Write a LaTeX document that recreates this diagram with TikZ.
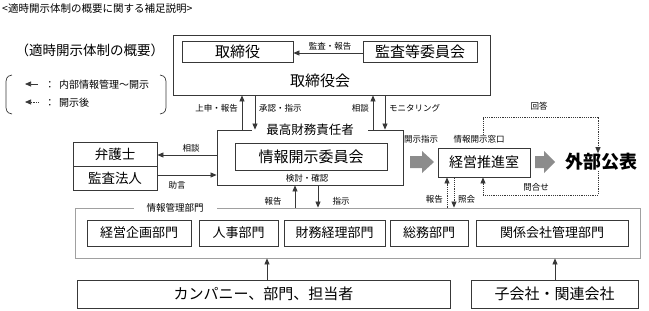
\documentclass[tikz,border=0pt]{standalone}
\usepackage{fontspec}
\setmainfont{Noto Sans CJK JP}
\usetikzlibrary{arrows.meta}
\newcommand{\fsz}[1]{\fontsize{#1}{#1}\selectfont}
\definecolor{lc}{HTML}{383838}
\definecolor{lc2}{HTML}{A0A0A0}
\definecolor{ga}{HTML}{8C8C8C}
\begin{document}
\begin{tikzpicture}[x=1pt,y=-1pt,
  bx/.style={draw=lc, line width=0.8pt, fill=white, inner sep=0pt, anchor=center},
  cont/.style={draw=lc2, line width=0.8pt, fill=white, inner sep=0pt, anchor=center},
  lbl/.style={inner sep=0pt, font=\fsz{8.5}},
  arr/.style={draw=lc, line width=0.75pt, -{Triangle[length=6pt,width=5pt]}},
  dotl/.style={dash pattern=on 1.2pt off 1pt},
  fat/.style={fill=ga, draw=none}]
\useasboundingbox (0,0) rectangle (649,311);

% title and legend
\node[anchor=west, inner sep=0pt, font=\fsz{10.5}] (title) at (2,9) {<適時開示体制の概要に関する補足説明>};
\node[inner sep=0pt, font=\fsz{13.5}] (legtitle) at (90,50) {（適時開示体制の概要）};
\draw[lc, line width=0.7pt] (12,75) .. controls (6,76) and (6,79) .. (6,85) -- (6,104) .. controls (6,110) and (6,113) .. (12,114);
\draw[lc, line width=0.7pt] (160,75) .. controls (166,76) and (166,79) .. (166,85) -- (166,104) .. controls (166,110) and (166,113) .. (160,114);
\coordinate (l1a) at (38,84); \coordinate (l1b) at (25,84);
\coordinate (l2a) at (39,102); \coordinate (l2b) at (25,102);
\draw[arr] (l1a) -- (l1b);
\draw[arr, dotl] (l2a) -- (l2b);
\node[inner sep=0pt, font=\fsz{10}] (c1) at (50,85) {：};
\node[anchor=west, inner sep=0pt, font=\fsz{10}] (leg1) at (59,85) {内部情報管理～開示};
\node[inner sep=0pt, font=\fsz{10}] (c2) at (50,103) {：};
\node[anchor=west, inner sep=0pt, font=\fsz{10}] (leg2) at (59,103) {開示後};

% board
\node[bx, minimum width=317pt, minimum height=60pt] (board) at (331.5,65) {};
\node[bx, minimum width=111pt, minimum height=21pt, font=\fsz{15}] (tori) at (237.5,51.5) {取締役};
\node[bx, minimum width=114pt, minimum height=21pt, font=\fsz{15}] (kansa) at (420,51.5) {監査等委員会};
\node[inner sep=0pt, font=\fsz{15}] (boardlbl) at (320,81) {取締役会};
\draw[arr] ([yshift=-1.5pt]kansa.west) -- ([yshift=-1.5pt]tori.east);
\node[lbl] (l_kansa) at (330,46) {監査・報告};

% CFO
\node[bx, minimum width=186pt, minimum height=55pt] (cfo) at (310,157.5) {};
\node[fill=white, inner xsep=14pt, inner ysep=1pt, font=\fsz{12.5}] (cfolbl) at (310,130) {最高財務責任者};
\node[bx, minimum width=152pt, minimum height=27pt, font=\fsz{15}] (iinkai) at (311,156.5) {情報開示委員会};
\node[lbl] (kento) at (307,178) {検討・確認};

% board <-> CFO
\draw[arr] (242,0 |- cfo.north) -- (242,0 |- board.south);
\draw[arr] (255,0 |- board.south) -- (255,0 |- cfo.north);
\draw[arr] (373,0 |- cfo.north) -- (373,0 |- board.south);
\draw[arr] (385,0 |- board.south) -- (385,0 |- cfo.north);
\node[lbl, anchor=east] (l_joshin) at (238,108) {上申・報告};
\node[lbl, anchor=west] (l_shonin) at (259,108) {承認・指示};
\node[lbl, anchor=east] (l_sodan1) at (369,108) {相談};
\node[lbl, anchor=west] (l_monitor) at (389,108) {モニタリング};

% lawyer / auditor
\node[bx, minimum width=84pt, minimum height=24pt, font=\fsz{13.5}] (bengo) at (115,154) {弁護士};
\node[bx, minimum width=84pt, minimum height=24pt, font=\fsz{13.5}] (hojin) at (115,178) {監査法人};
\draw[arr] (cfo.west |- 0,155) -- (bengo.east |- 0,155);
\draw[arr] (hojin.east |- 0,175) -- (cfo.west |- 0,175);
\node[lbl] (l_sodan2) at (191,148) {相談};
\node[lbl] (l_jogen) at (177,185) {助言};

% disclosure office
\node[bx, minimum width=92pt, minimum height=29pt, font=\fsz{14}] (suishin) at (484,162.5) {経営推進室};
\node[lbl] (l_madoguchi) at (479,139) {情報開示窓口};
\node[lbl] (l_shiji1) at (421,139) {開示指示};
\node[inner sep=0pt, font=\fsz{18}\bfseries] (gaibu) at (601,162) {外部公表};
\fill[fat] (410,156) -- (422,156) -- (422,151) -- (434,162) -- (422,173) -- (422,168) -- (410,168) -- cycle;
\fill[fat] (535,156) -- (544,156) -- (544,151) -- (555,162) -- (544,173) -- (544,168) -- (535,168) -- cycle;

% dotted answer / inquiry
\coordinate (ansstart) at (483,135);
\draw[arr, dotl] (ansstart) -- (483,117) -- (598,117) -- (598,0 |- gaibu.north);
\node[lbl] (l_kaito) at (539,106) {回答};
\draw[arr, dotl] (598,0 |- gaibu.south) -- (598,195) -- (483,195) -- (483,0 |- suishin.south);
\node[lbl] (l_toiawase) at (536,187) {問合せ};

% information management departments
\node[cont, minimum width=565pt, minimum height=50pt] (joho) at (357.5,233) {};
\node[fill=white, inner xsep=13pt, inner ysep=1pt, font=\fsz{9.5}] (joholbl) at (175,208) {情報管理部門};
\node[bx, minimum width=104pt, minimum height=26pt, font=\fsz{13}] (keiei) at (139,233) {経営企画部門};
\node[bx, minimum width=79pt, minimum height=26pt, font=\fsz{13}] (jinji) at (238.5,233) {人事部門};
\node[bx, minimum width=101pt, minimum height=26pt, font=\fsz{13}] (zaimu) at (334.5,233) {財務経理部門};
\node[bx, minimum width=78pt, minimum height=26pt, font=\fsz{13}] (somu) at (429,233) {総務部門};
\node[bx, minimum width=152pt, minimum height=26pt, font=\fsz{13}] (kankei) at (552,233) {関係会社管理部門};

% CFO <-> info mgmt
\draw[arr] (295,0 |- joho.north) -- (295,0 |- cfo.south);
\draw[arr] (318,0 |- cfo.south) -- (318,0 |- joho.north);
\node[lbl] (l_hokoku1) at (273,201) {報告};
\node[lbl] (l_shiji2) at (341,201) {指示};

% office <-> info mgmt
\draw[arr, dotl] (447,0 |- joho.north) -- (447,0 |- suishin.south);
\draw[arr, dotl] (454,0 |- suishin.south) -- (454,0 |- joho.north);
\node[lbl, anchor=east] (l_hokoku2) at (443,199) {報告};
\node[lbl, anchor=west] (l_shokai) at (458,199) {照会};

% bottom boxes
\node[bx, minimum width=373pt, minimum height=28pt, font=\fsz{15}] (company) at (263.5,294) {カンパニー、部門、担当者};
\node[bx, minimum width=167pt, minimum height=28pt, font=\fsz{15}] (kogaisha) at (554.5,294) {子会社・関連会社};
\draw[arr] (267,0 |- company.north) -- (267,0 |- joho.south);
\draw[arr] (555,0 |- kogaisha.north) -- (555,0 |- joho.south);
\end{tikzpicture}
\end{document}
